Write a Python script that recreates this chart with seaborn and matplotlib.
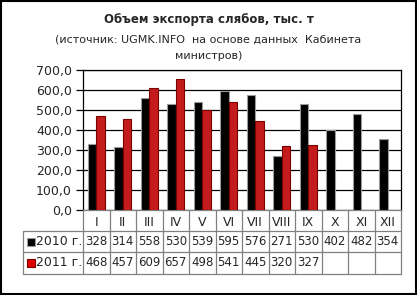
import numpy as np
import pandas as pd
import seaborn as sns
import matplotlib.pyplot as plt
import matplotlib.transforms as mtransforms
from matplotlib.patches import Rectangle

months = ['I', 'II', 'III', 'IV', 'V', 'VI', 'VII', 'VIII', 'IX', 'X', 'XI', 'XII']
vals_2010 = [328, 314, 558, 530, 539, 595, 576, 271, 530, 402, 482, 354]
vals_2011 = [468, 457, 609, 657, 498, 541, 445, 320, 327, None, None, None]
series = ['2010 г.', '2011 г.']
colors = ['#000000', '#E00000']
edges = ['#9A9A9A', '#7A0000']

df = pd.DataFrame({'month': months * 2,
                   'year': [series[0]] * 12 + [series[1]] * 12,
                   'value': vals_2010 + vals_2011})
df = df.dropna()

sns.set_style('white')
plt.rcParams['font.family'] = ['DejaVu Sans']

fig = plt.figure(figsize=(4.17, 2.95), dpi=100)
ax = fig.add_axes([83 / 417, 1 - 210 / 295, 318 / 417, 140 / 295])

sns.barplot(data=df, x='month', y='value', hue='year', order=months,
            hue_order=series, palette=colors, width=0.66, errorbar=None,
            legend=False, ax=ax, zorder=3)
for i, cont in enumerate(ax.containers):
    for bar in cont:
        bar.set_edgecolor(edges[i])
        bar.set_linewidth(0.8)

ax.set_xlim(-0.5, 11.5)
ax.set_ylim(0, 700)
ax.set_yticks(np.arange(0, 701, 100))
ax.set_yticklabels([f'{v:.1f}'.replace('.', ',') for v in np.arange(0, 701, 100)], fontsize=9)
ax.yaxis.grid(True, color='black', linewidth=0.9, zorder=0)
ax.tick_params(axis='y', length=5, width=0.9, color='black', direction='out', pad=3, left=True)
ax.set_xticks(range(12))
ax.set_xticklabels(months, fontsize=9)
ax.tick_params(axis='x', length=0, pad=4)
ax.set_xlabel('')
ax.set_ylabel('')
for s in ['left', 'right', 'top']:
    ax.spines[s].set_color('black')
    ax.spines[s].set_linewidth(0.9)
ax.spines['bottom'].set_color('#808080')
ax.spines['bottom'].set_linewidth(0.9)

# data table below the axis
blend = mtransforms.blended_transform_factory(ax.transData, ax.transAxes)
row_h = 21 / 140
grey = '#808080'
left_x = (23 - 83) / 318
y_rows = [0, -row_h, -2 * row_h, -2 * row_h - 22 / 140]
for y in y_rows[1:]:
    ax.plot([left_x, 1], [y, y], transform=ax.transAxes, color=grey, lw=0.9, clip_on=False)
for k in range(13):
    ax.plot([k - 0.5, k - 0.5], [0, y_rows[-1]], transform=blend, color=grey, lw=0.9, clip_on=False)
ax.plot([left_x, left_x], [y_rows[1], y_rows[-1]], transform=ax.transAxes, color=grey, lw=0.9, clip_on=False)

for r, (name, vals) in enumerate(zip(series, [vals_2010, vals_2011])):
    yc = (y_rows[r + 1] + y_rows[r + 2]) / 2
    for k, v in enumerate(vals):
        if v is not None:
            ax.text(k, yc, str(v), transform=blend, ha='center', va='center', fontsize=8.5)
    ax.add_patch(Rectangle((left_x + 4 / 318, yc - 4 / 140), 8 / 318, 8 / 140, transform=ax.transAxes,
                           facecolor=colors[r], edgecolor=edges[r], lw=0.8, clip_on=False))
    ax.text(left_x + 13 / 318, yc, name, transform=ax.transAxes, ha='left', va='center', fontsize=9)

fig.text(0.5, 1 - 20 / 295, 'Объем экспорта слябов, тыс. т', ha='center', va='center',
         fontsize=8.5, fontweight='bold')
fig.text(0.5, 1 - 40 / 295, '(источник: UGMK.INFO  на основе данных  Кабинета', ha='center',
         va='center', fontsize=8)
fig.text(0.5, 1 - 56 / 295, 'министров)', ha='center', va='center', fontsize=8)

fig.patches.append(Rectangle((0.002, 0.003), 0.995, 0.994, transform=fig.transFigure,
                             fill=False, edgecolor='black', lw=1.5))

fig.savefig('out.png', dpi=100)
